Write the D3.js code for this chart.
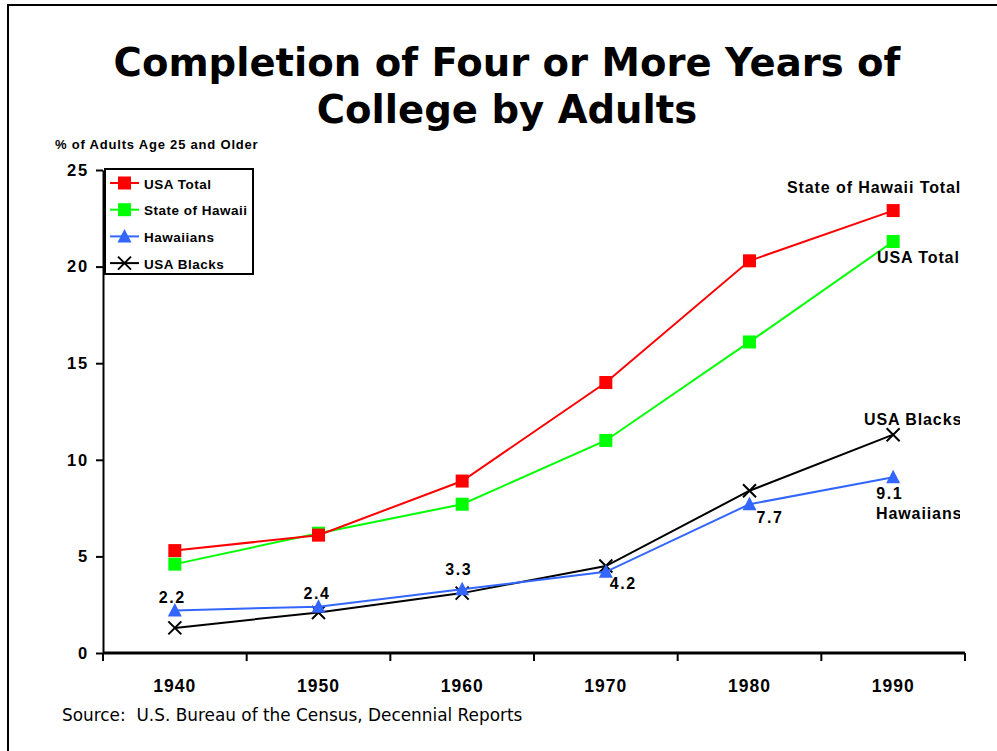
<!DOCTYPE html>
<html>
<head>
<meta charset="utf-8">
<script src="https://cdn.jsdelivr.net/npm/d3@7"></script>
<style>
  html, body { margin: 0; padding: 0; background: #fff; }
  svg { display: block; }
</style>
</head>
<body>
<svg id="chart" width="997" height="751"></svg>
<script>
// Census years and the share of adults (25+) with 4+ years of college, in percent
const years = ["1940", "1950", "1960", "1970", "1980", "1990"];
const usaTotal = [5.3, 6.1, 8.9, 14.0, 20.3, 22.9];
const stateOfHawaii = [4.6, 6.2, 7.7, 11.0, 16.1, 21.3];
const hawaiians = [2.2, 2.4, 3.3, 4.2, 7.7, 9.1];
const usaBlacks = [1.3, 2.1, 3.1, 4.5, 8.4, 11.3];
const yTicks = [0, 5, 10, 15, 20, 25];

const seriesList = [
  { name: "USA Total", values: usaTotal, color: "#ff0000", symbol: "square" },
  { name: "State of Hawaii", values: stateOfHawaii, color: "#00ff00", symbol: "square" },
  { name: "Hawaiians", values: hawaiians, color: "#3366ff", symbol: "triangle" },
  { name: "USA Blacks", values: usaBlacks, color: "#000000", symbol: "cross" }
];

const svg = d3.select("#chart");
const boldFont = "'Liberation Sans', Arial, sans-serif";

// page frame (top and left edges)
svg.append("path").attr("d", "M8,751 V5 H997")
  .attr("fill", "none").attr("stroke", "#000").attr("stroke-width", 2);

// title
const title = svg.append("text")
  .attr("text-anchor", "middle")
  .attr("font-family", "'DejaVu Sans', Verdana, sans-serif")
  .attr("font-weight", "bold").attr("font-size", 38.6);
title.append("tspan").attr("x", 507).attr("y", 76).text("Completion of Four or More Years of");
title.append("tspan").attr("x", 507).attr("y", 123).text("College by Adults");

const plot = { left: 103, right: 965, top: 170, bottom: 653 };

const x = d3.scaleBand().domain(years).range([plot.left, plot.right]).padding(0);
const y = d3.scaleLinear().domain([0, 25]).range([plot.bottom, plot.top]);
const cx = d => x(d) + x.bandwidth() / 2;

// y axis
const yAxis = svg.append("g")
  .attr("transform", `translate(${plot.left},0)`)
  .call(d3.axisLeft(y).tickValues(yTicks).tickSize(7).tickSizeOuter(0).tickPadding(7));
yAxis.select(".domain").attr("stroke-width", 2);
yAxis.selectAll(".tick line").attr("stroke-width", 2);
yAxis.selectAll(".tick text")
  .attr("font-family", boldFont).attr("font-weight", "bold").attr("font-size", 16.5)
  .attr("letter-spacing", 1.8).attr("fill", "#000");

// x axis: ticks sit on the category boundaries
const xAxis = svg.append("g")
  .attr("transform", `translate(0,${plot.bottom})`)
  .call(d3.axisBottom(x).tickSize(0).tickPadding(27));
xAxis.select(".domain").attr("stroke-width", 3).attr("d", `M${plot.left},0H${plot.right}`);
xAxis.selectAll(".tick text")
  .attr("font-family", boldFont).attr("font-weight", "bold").attr("font-size", 17.5)
  .attr("letter-spacing", 1).attr("fill", "#000");
const boundaries = years.map(d => x(d)).concat([plot.right]);
xAxis.selectAll("line.bound").data(boundaries).join("line")
  .attr("class", "bound")
  .attr("x1", d => d).attr("x2", d => d)
  .attr("y1", 0).attr("y2", 8)
  .attr("stroke", "#000").attr("stroke-width", 2);

// y axis caption
svg.append("text")
  .attr("x", 55).attr("y", 149)
  .attr("font-family", boldFont).attr("font-weight", "bold").attr("font-size", 13)
  .attr("letter-spacing", 0.8)
  .text("% of Adults Age 25 and Older");

// markers
function drawMarker(g, symbol, color, px, py) {
  if (symbol === "square") {
    g.append("rect").attr("x", px - 6.5).attr("y", py - 6.5)
      .attr("width", 13).attr("height", 13).attr("fill", color);
  } else if (symbol === "triangle") {
    g.append("path").attr("d", `M${px},${py - 7.5}L${px + 7},${py + 6}L${px - 7},${py + 6}Z`)
      .attr("fill", color);
  } else {
    g.append("path").attr("d", `M${px - 6.5},${py - 6.5}L${px + 6.5},${py + 6.5}M${px + 6.5},${py - 6.5}L${px - 6.5},${py + 6.5}`)
      .attr("stroke", color).attr("stroke-width", 2).attr("fill", "none");
  }
}

const line = d3.line().x(d => cx(d.year)).y(d => y(d.value));

// draw series back to front: blacks, hawaiians, state, usa
const drawOrder = [seriesList[3], seriesList[2], seriesList[1], seriesList[0]];
drawOrder.forEach(s => {
  const pts = years.map((yr, i) => ({ year: yr, value: s.values[i] }));
  const g = svg.append("g");
  g.append("path").datum(pts).attr("d", line)
    .attr("fill", "none").attr("stroke", s.color).attr("stroke-width", 2);
  pts.forEach(p => drawMarker(g, s.symbol, s.color, cx(p.year), y(p.value)));
});

// value labels for Hawaiians, placed relative to each point
const labelOffsets = [
  { dx: -16, dy: -7.5 },
  { dx: -15, dy: -8 },
  { dx: -17, dy: -14 },
  { dx: 4, dy: 17 },
  { dx: 7, dy: 19 },
  { dx: -17, dy: 22 }
];
svg.append("g").selectAll("text").data(years).join("text")
  .attr("x", (d, i) => cx(d) + labelOffsets[i].dx)
  .attr("y", (d, i) => y(hawaiians[i]) + labelOffsets[i].dy)
  .attr("font-family", boldFont).attr("font-weight", "bold").attr("font-size", 16)
  .attr("letter-spacing", 1.6)
  .text((d, i) => hawaiians[i].toFixed(1));

// series end labels, clipped at the right edge of the page area
svg.append("clipPath").attr("id", "endclip")
  .append("rect").attr("x", 0).attr("y", 0).attr("width", 960).attr("height", 751);
const endLabels = [
  { text: "State of Hawaii Total", x: 787, y: 192.5 },
  { text: "USA Total", x: 877, y: 262.5 },
  { text: "USA Blacks", x: 864, y: 425 },
  { text: "Hawaiians", x: 876, y: 519 }
];
svg.append("g").attr("clip-path", "url(#endclip)")
  .selectAll("text").data(endLabels).join("text")
  .attr("x", d => d.x).attr("y", d => d.y)
  .attr("font-family", boldFont).attr("font-weight", "bold").attr("font-size", 16)
  .attr("letter-spacing", 0.9)
  .text(d => d.text);

// legend
const legend = svg.append("g");
legend.append("rect").attr("x", 105).attr("y", 169).attr("width", 148).attr("height", 105)
  .attr("fill", "#fff").attr("stroke", "#000").attr("stroke-width", 2);
seriesList.forEach((s, i) => {
  const ly = 183 + i * 26.7;
  legend.append("line").attr("x1", 110).attr("x2", 139).attr("y1", ly).attr("y2", ly)
    .attr("stroke", s.color).attr("stroke-width", 2);
  drawMarker(legend, s.symbol, s.color, 124.5, ly);
  legend.append("text").attr("x", 144).attr("y", ly + 5.5)
    .attr("font-family", boldFont).attr("font-weight", "bold").attr("font-size", 13.5)
    .attr("letter-spacing", 0.5)
    .text(s.name);
});

// source note
svg.append("text")
  .attr("x", 62).attr("y", 721)
  .attr("font-family", "'DejaVu Sans', Verdana, sans-serif").attr("font-size", 16.9)
  .attr("xml:space", "preserve")
  .text("Source:  U.S. Bureau of the Census, Decennial Reports");
</script>
</body>
</html>
